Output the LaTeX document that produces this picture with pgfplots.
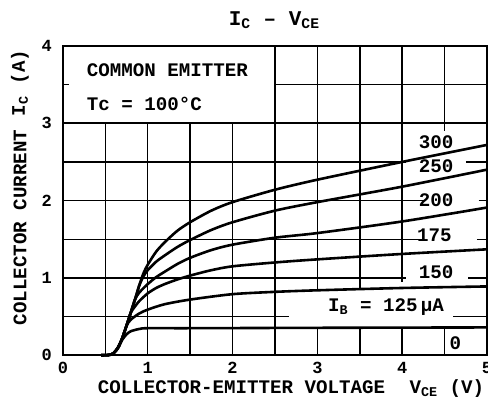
\documentclass[border=0pt]{standalone}
\usepackage{fontspec}
\setmainfont{Liberation Mono}
\usepackage{pgfplots}
\pgfplotsset{compat=1.18}
\newcommand{\lbl}{\fontsize{9.6}{11}\selectfont\bfseries}
\tikzset{curve/.style={black, line width=1.3pt, smooth, tension=0.45},
  gl/.style={black, line width=0.75pt}}
\begin{document}
\begin{tikzpicture}
\useasboundingbox (0,0) rectangle (244.5pt,203.5pt);
\begin{axis}[at={(31.5pt,25.5pt)}, anchor=south west, scale only axis,
  width=212.5pt, height=155pt, xmin=0, xmax=5, ymin=0, ymax=4,
  xtick={0,1,2,3,4,5}, ytick={0,1,2,3,4}, major tick length=0pt,
  axis line style={line width=1.1pt}, clip=false,
  tick label style={font=\fontsize{8.5}{10}\selectfont\bfseries},
  yticklabel style={xshift=-2pt},
  /pgf/number format/assume math mode=true]
% grid
\draw[gl] (0.5,0)--(0.5,3); \draw[gl] (1,0)--(1,3); \draw[gl] (1.5,0)--(1.5,3); \draw[gl] (2,0)--(2,3);
\draw[gl] (2.5,0)--(2.5,4);
\draw[gl] (3,0)--(3,0.36); \draw[gl] (3,0.84)--(3,4);
\draw[gl] (3.5,0)--(3.5,0.36); \draw[gl] (3.5,0.86)--(3.5,4);
\draw[gl] (4,0)--(4,0.36); \draw[gl] (4,0.95)--(4,4);
\draw[gl] (4.5,0)--(4.5,0.36); \draw[gl] (4.5,2.9)--(4.5,4);
\draw[gl] (0,0.5)--(2.67,0.5); \draw[gl] (4.6,0.5)--(5,0.5);
\draw[gl] (0,1)--(4.05,1); \draw[gl] (4.78,1)--(5,1);
\draw[gl] (0,1.5)--(4.27,1.5); \draw[gl] (4.88,1.5)--(5,1.5);
\draw[gl] (0,2)--(4.26,2); \draw[gl] (4.9,2)--(5,2);
\draw[gl] (0,2.5)--(4.05,2.5); \draw[gl] (4.75,2.5)--(5,2.5);
\draw[gl] (0,3)--(5,3);
\draw[gl] (2.5,3.5)--(5,3.5);
\draw[gl] (0,3.5)--(0.07,3.5);
% curves
\addplot[curve, no marks] coordinates {(0.45,0) (0.55,0.005) (0.6,0.03) (0.65,0.09) (0.7,0.2) (0.75,0.27) (0.8,0.31) (0.9,0.34) (1.0,0.35) (1.5,0.35) (3,0.355) (5,0.36)};
\addplot[curve, no marks] coordinates {(0.45,0) (0.55,0.005) (0.6,0.03) (0.65,0.1) (0.7,0.22) (0.75,0.38) (0.8,0.46) (0.9,0.54) (1.0,0.59) (1.2,0.66) (1.5,0.72) (2,0.79) (2.5,0.82) (3,0.84) (4,0.87) (5,0.89)};
\addplot[curve, no marks] coordinates {(0.45,0) (0.55,0.005) (0.6,0.03) (0.65,0.1) (0.7,0.22) (0.75,0.38) (0.8,0.55) (0.85,0.63) (0.9,0.7) (1.0,0.8) (1.1,0.87) (1.2,0.92) (1.35,0.98) (1.5,1.03) (1.75,1.1) (2,1.15) (2.5,1.2) (3,1.24) (4,1.31) (5,1.37)};
\addplot[curve, no marks] coordinates {(0.45,0) (0.55,0.005) (0.6,0.03) (0.65,0.1) (0.7,0.22) (0.75,0.38) (0.8,0.55) (0.85,0.72) (0.9,0.81) (1.0,0.92) (1.1,1.01) (1.2,1.08) (1.35,1.18) (1.5,1.26) (1.75,1.36) (2,1.43) (2.5,1.52) (3,1.58) (4,1.73) (5,1.91)};
\addplot[curve, no marks] coordinates {(0.45,0) (0.55,0.005) (0.6,0.03) (0.65,0.1) (0.7,0.22) (0.75,0.38) (0.8,0.55) (0.85,0.72) (0.9,0.9) (0.95,1.02) (1.0,1.1) (1.1,1.21) (1.2,1.29) (1.35,1.4) (1.5,1.49) (1.75,1.62) (2,1.72) (2.5,1.87) (3,1.98) (4,2.18) (5,2.4)};
\addplot[curve, no marks] coordinates {(0.45,0) (0.55,0.005) (0.6,0.03) (0.65,0.1) (0.7,0.22) (0.75,0.38) (0.8,0.55) (0.85,0.72) (0.9,0.9) (0.95,1.06) (1.0,1.17) (1.1,1.34) (1.2,1.46) (1.35,1.61) (1.5,1.72) (1.75,1.87) (2,1.98) (2.5,2.14) (3,2.27) (4,2.5) (5,2.72)};
% texts in plot
\node[anchor=west, font=\lbl] at (0.2,3.68) {COMMON EMITTER};
\node[anchor=west, font=\lbl] at (0.2,3.25) {Tc = 100°C};
\node[font=\lbl] at (4.40,2.76) {300};
\node[font=\lbl] at (4.40,2.44) {250};
\node[font=\lbl] at (4.40,2.0) {200};
\node[font=\lbl] at (4.38,1.55) {175};
\node[font=\lbl] at (4.40,1.08) {150};
\node[font=\lbl] at (3.81,0.62) {I\textsubscript{B} = 125\,μA};
\node[anchor=west, font=\lbl, inner sep=1pt] at (4.53,0.15) {0};
\end{axis}
\node[font=\fontsize{10.5}{12}\selectfont\bfseries] at (137.5pt,193.5pt) {I\textsubscript{C} – V\textsubscript{CE}};
\node[font=\lbl, rotate=90] at (10pt,89.5pt) {COLLECTOR CURRENT};
\node[font=\lbl, rotate=90] at (10pt,162pt) {I\textsubscript{C} (A)};
\node[font=\lbl, anchor=base] at (121pt,6.5pt) {COLLECTOR-EMITTER VOLTAGE};
\node[font=\lbl, anchor=base west, inner sep=0pt] at (205pt,6.5pt) {V\textsubscript{CE} (V)};
\end{tikzpicture}
\end{document}
